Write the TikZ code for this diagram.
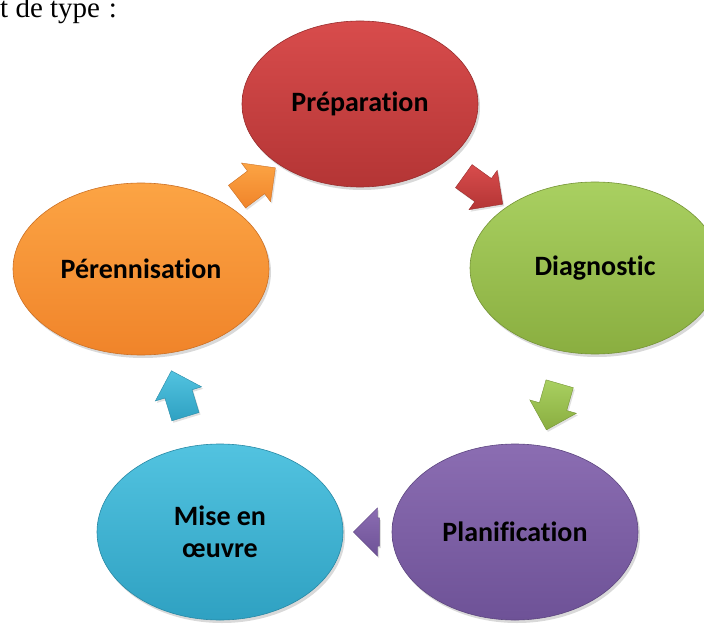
\documentclass[tikz,border=0pt]{standalone}
\usepackage{fontspec}
\setmainfont{Liberation Serif}
\newfontfamily\calib[Ligatures=NoCommon]{Carlito}
\usetikzlibrary{shapes.geometric,shapes.arrows,shadows,calc}

\definecolor{redA}{HTML}{D84C4C}\definecolor{redB}{HTML}{B43535}
\definecolor{greenA}{HTML}{A9D061}\definecolor{greenB}{HTML}{8AAE40}
\definecolor{purA}{HTML}{8B6DB2}\definecolor{purB}{HTML}{6E5297}
\definecolor{bluA}{HTML}{52C3E0}\definecolor{bluB}{HTML}{2FA1C2}
\definecolor{orA}{HTML}{FCA444}\definecolor{orB}{HTML}{F0842A}

\tikzset{
  phase/.style n args={2}{ellipse, minimum width=246, minimum height=172,
    inner sep=0pt, top color=#1, bottom color=#2, draw=#2!85!black, line width=0.6pt,
    drop shadow={shadow xshift=2pt, shadow yshift=-3pt, opacity=0.25, fill=black!60},
    font=\calib\bfseries\fontsize{28}{32}\selectfont, align=center, text=black},
  flow/.style n args={2}{single arrow, minimum height=48, inner xsep=0pt,
    inner ysep=14pt, single arrow head extend=10pt, top color=#1, bottom color=#2,
    draw=#2!85!black, line width=0.4pt,
    drop shadow={shadow xshift=1.5pt, shadow yshift=-2pt, opacity=0.2, fill=black!60}},
}

\begin{document}
\begin{tikzpicture}[x=1pt, y=1pt]
  \useasboundingbox (0,0) rectangle (704,625);

  % leading words of the sentence above the cycle
  \node[anchor=base west, inner sep=0pt, font=\fontsize{29}{33}\selectfont] (intro) at (0,607) {t de type\hspace{0.3em}:};

  % the five phases of the cycle
  \node[phase={redA}{redB}, minimum width=236, minimum height=166] (prep) at (360,521) {Préparation};
  \node[phase={greenA}{greenB}, minimum width=250] (diag)  at (595,357) {Diagnostic};
  \node[phase={purA}{purB}, minimum height=176]    (plan)  at (515,93)  {Planification};
  \node[phase={bluA}{bluB}, minimum height=176]    (mise)  at (220,93)  {Mise en\\œuvre};
  \node[phase={orA}{orB}, minimum width=256]       (peren) at (141,356) {Pérennisation};

  % block arrows between consecutive phases
  \node[flow={redA}{redB}, rotate=-35.7]    (a1) at ($(prep)!0.5!(diag)$) {};
  \node[flow={greenA}{greenB}, rotate=-106] (a2) at ($(diag)!0.5!(plan)$) {};
  \node[flow={purA}{purB}, rotate=180, minimum height=26] (a3) at ($(plan)!0.48!(mise)$) {};
  \node[flow={bluA}{bluB}, rotate=107]      (a4) at ($(mise)!0.5!(peren)$) {};
  \node[flow={orA}{orB}, rotate=36.9]       (a5) at ($(peren)!0.5!(prep)$) {};
\end{tikzpicture}
\end{document}
